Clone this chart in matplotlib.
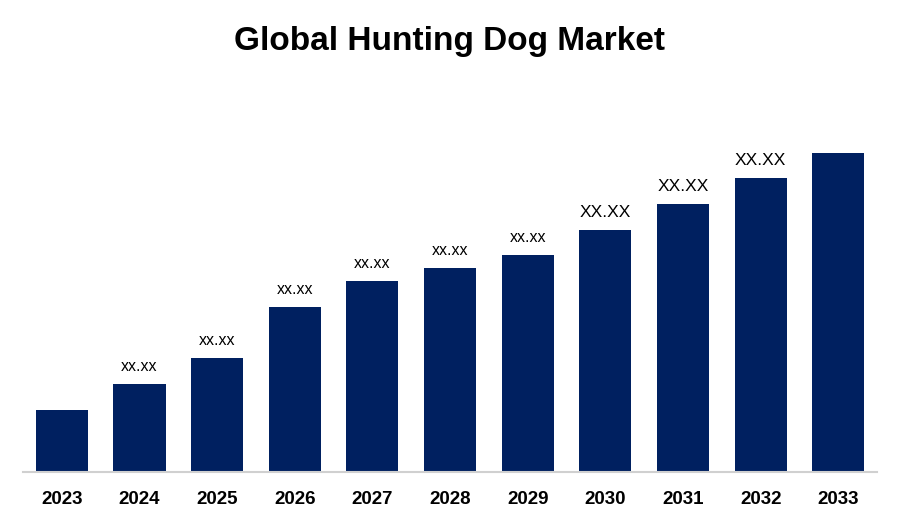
import matplotlib
matplotlib.use("Agg")
import matplotlib.pyplot as plt

# values (bar heights, arbitrary units)
years = ["2023", "2024", "2025", "2026", "2027", "2028", "2029", "2030", "2031", "2032", "2033"]
values = [62, 88, 114, 165, 191, 204, 217, 242, 268, 294, 319]
labels = ["", "xx.xx", "xx.xx", "xx.xx", "xx.xx", "xx.xx", "xx.xx", "XX.XX", "XX.XX", "XX.XX", ""]
label_sizes = [11.5, 11.5, 11.5, 11.5, 11.5, 11.5, 11.5, 12.5, 12.5, 12.5, 11.5]


def main():
    plt.rcParams["font.family"] = ["Liberation Sans", "DejaVu Sans"]
    fig = plt.figure(figsize=(9, 5.25), dpi=100)
    ax = fig.add_axes([0.0256, 0.101, 0.949, 0.8])

    x = list(range(len(years)))
    bars = ax.bar(x, values, width=0.67, color="#002060")

    for bar, text, size in zip(bars, labels, label_sizes):
        if not text:
            continue
        ax.annotate(text, (bar.get_x() + bar.get_width() / 2, bar.get_height()),
                    xytext=(0, 7.5), textcoords="offset points",
                    ha="center", va="bottom", fontsize=size, color="black")

    ax.set_xlim(-0.5, len(years) - 0.5)
    ax.set_ylim(0, 420)
    ax.set_xticks(x)
    ax.set_xticklabels(years, fontsize=13.5, fontweight="bold")
    ax.tick_params(axis="x", length=0, pad=14)
    ax.set_yticks([])

    for side in ["top", "right", "left"]:
        ax.spines[side].set_visible(False)
    ax.spines["bottom"].set_color("#d0d0d0")
    ax.spines["bottom"].set_linewidth(1.5)

    fig.text(0.5, 0.921, "Global Hunting Dog Market", ha="center", va="center",
             fontsize=24, fontweight="bold")

    fig.savefig("out.png", dpi=100)


if __name__ == "__main__":
    main()
